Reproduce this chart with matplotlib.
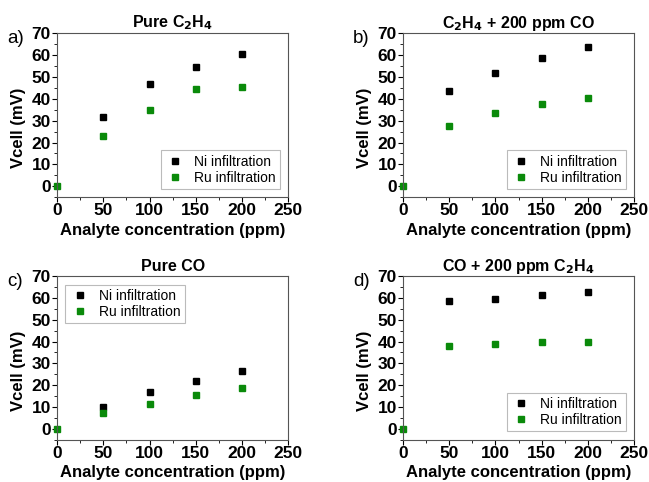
import numpy as np
import matplotlib.pyplot as plt
from matplotlib.ticker import MultipleLocator

plt.rcParams['font.family'] = ['Liberation Sans', 'DejaVu Sans']

conc = [0, 50, 100, 150, 200]
conc_ni = [50, 100, 150, 200]

ni_a = [31.5, 47.0, 54.5, 60.5]
ru_a = [0, 23.2, 34.8, 44.5, 45.5]
ni_b = [43.5, 52.0, 58.5, 63.5]
ru_b = [0, 27.5, 33.5, 37.8, 40.3]
ni_c = [10.0, 16.7, 22.0, 26.5]
ru_c = [0, 7.0, 11.2, 15.5, 18.5]
ni_d = [58.5, 59.7, 61.3, 62.8]
ru_d = [0, 37.8, 39.0, 39.7, 40.0]

titles = ['Pure C$_\\mathbf{2}$H$_\\mathbf{4}$', 'C$_\\mathbf{2}$H$_\\mathbf{4}$ + 200 ppm CO',
          'Pure CO', 'CO + 200 ppm C$_\\mathbf{2}$H$_\\mathbf{4}$']
letters = ['a)', 'b)', 'c)', 'd)']
legend_loc = ['lower right', 'lower right', 'upper left', 'lower right']
ni_all = [ni_a, ni_b, ni_c, ni_d]
ru_all = [ru_a, ru_b, ru_c, ru_d]

# axes boxes in figure fractions
boxes = [(0.088, 0.591, 0.356, 0.340), (0.621, 0.591, 0.356, 0.340),
         (0.088, 0.088, 0.356, 0.339), (0.621, 0.088, 0.356, 0.339)]

fig = plt.figure(figsize=(6.49, 4.82), dpi=100)
green = '#0a8a0a'

for k in range(4):
    ax = fig.add_axes(boxes[k])
    ax.plot(conc_ni, ni_all[k], 's', color='black', ms=5, label='Ni infiltration', clip_on=False)
    ax.plot(conc, ru_all[k], 's', color=green, ms=5, label='Ru infiltration', clip_on=False)
    ax.set_xlim(0, 250)
    ax.set_ylim(-5, 70)
    ax.xaxis.set_major_locator(MultipleLocator(50))
    ax.xaxis.set_minor_locator(MultipleLocator(25))
    ax.yaxis.set_major_locator(MultipleLocator(10))
    ax.yaxis.set_minor_locator(MultipleLocator(5))
    ax.tick_params(which='major', length=3.5, width=0.8, labelsize=12.5, pad=1)
    ax.tick_params(which='minor', length=2, width=0.6)
    for lab in ax.get_xticklabels() + ax.get_yticklabels():
        lab.set_fontweight('bold')
    for s in ax.spines.values():
        s.set_color('#555555')
        s.set_linewidth(0.8)
    ax.set_xlabel('Analyte concentration (ppm)', fontsize=12, fontweight='bold', labelpad=3)
    ax.set_ylabel('Vcell (mV)', fontsize=12, fontweight='bold')
    ax.yaxis.set_label_coords(-0.135, 0.42)
    ax.set_title(titles[k], fontsize=11.5, fontweight='bold', pad=4)
    leg = ax.legend(loc=legend_loc[k], fontsize=10, numpoints=1, handletextpad=0.6,
                    borderpad=0.3, labelspacing=0.15, fancybox=False, framealpha=1,
                    handlelength=1.5, borderaxespad=0.6)
    leg.get_frame().set_edgecolor('#bbbbbb')
    leg.get_frame().set_linewidth(0.8)
    x0, y0, w, h = boxes[k]
    fig.text(x0 - 0.077, y0 + h - 0.01, letters[k], fontsize=13.5, ha='left', va='center')

fig.savefig('out.png', dpi=100)
